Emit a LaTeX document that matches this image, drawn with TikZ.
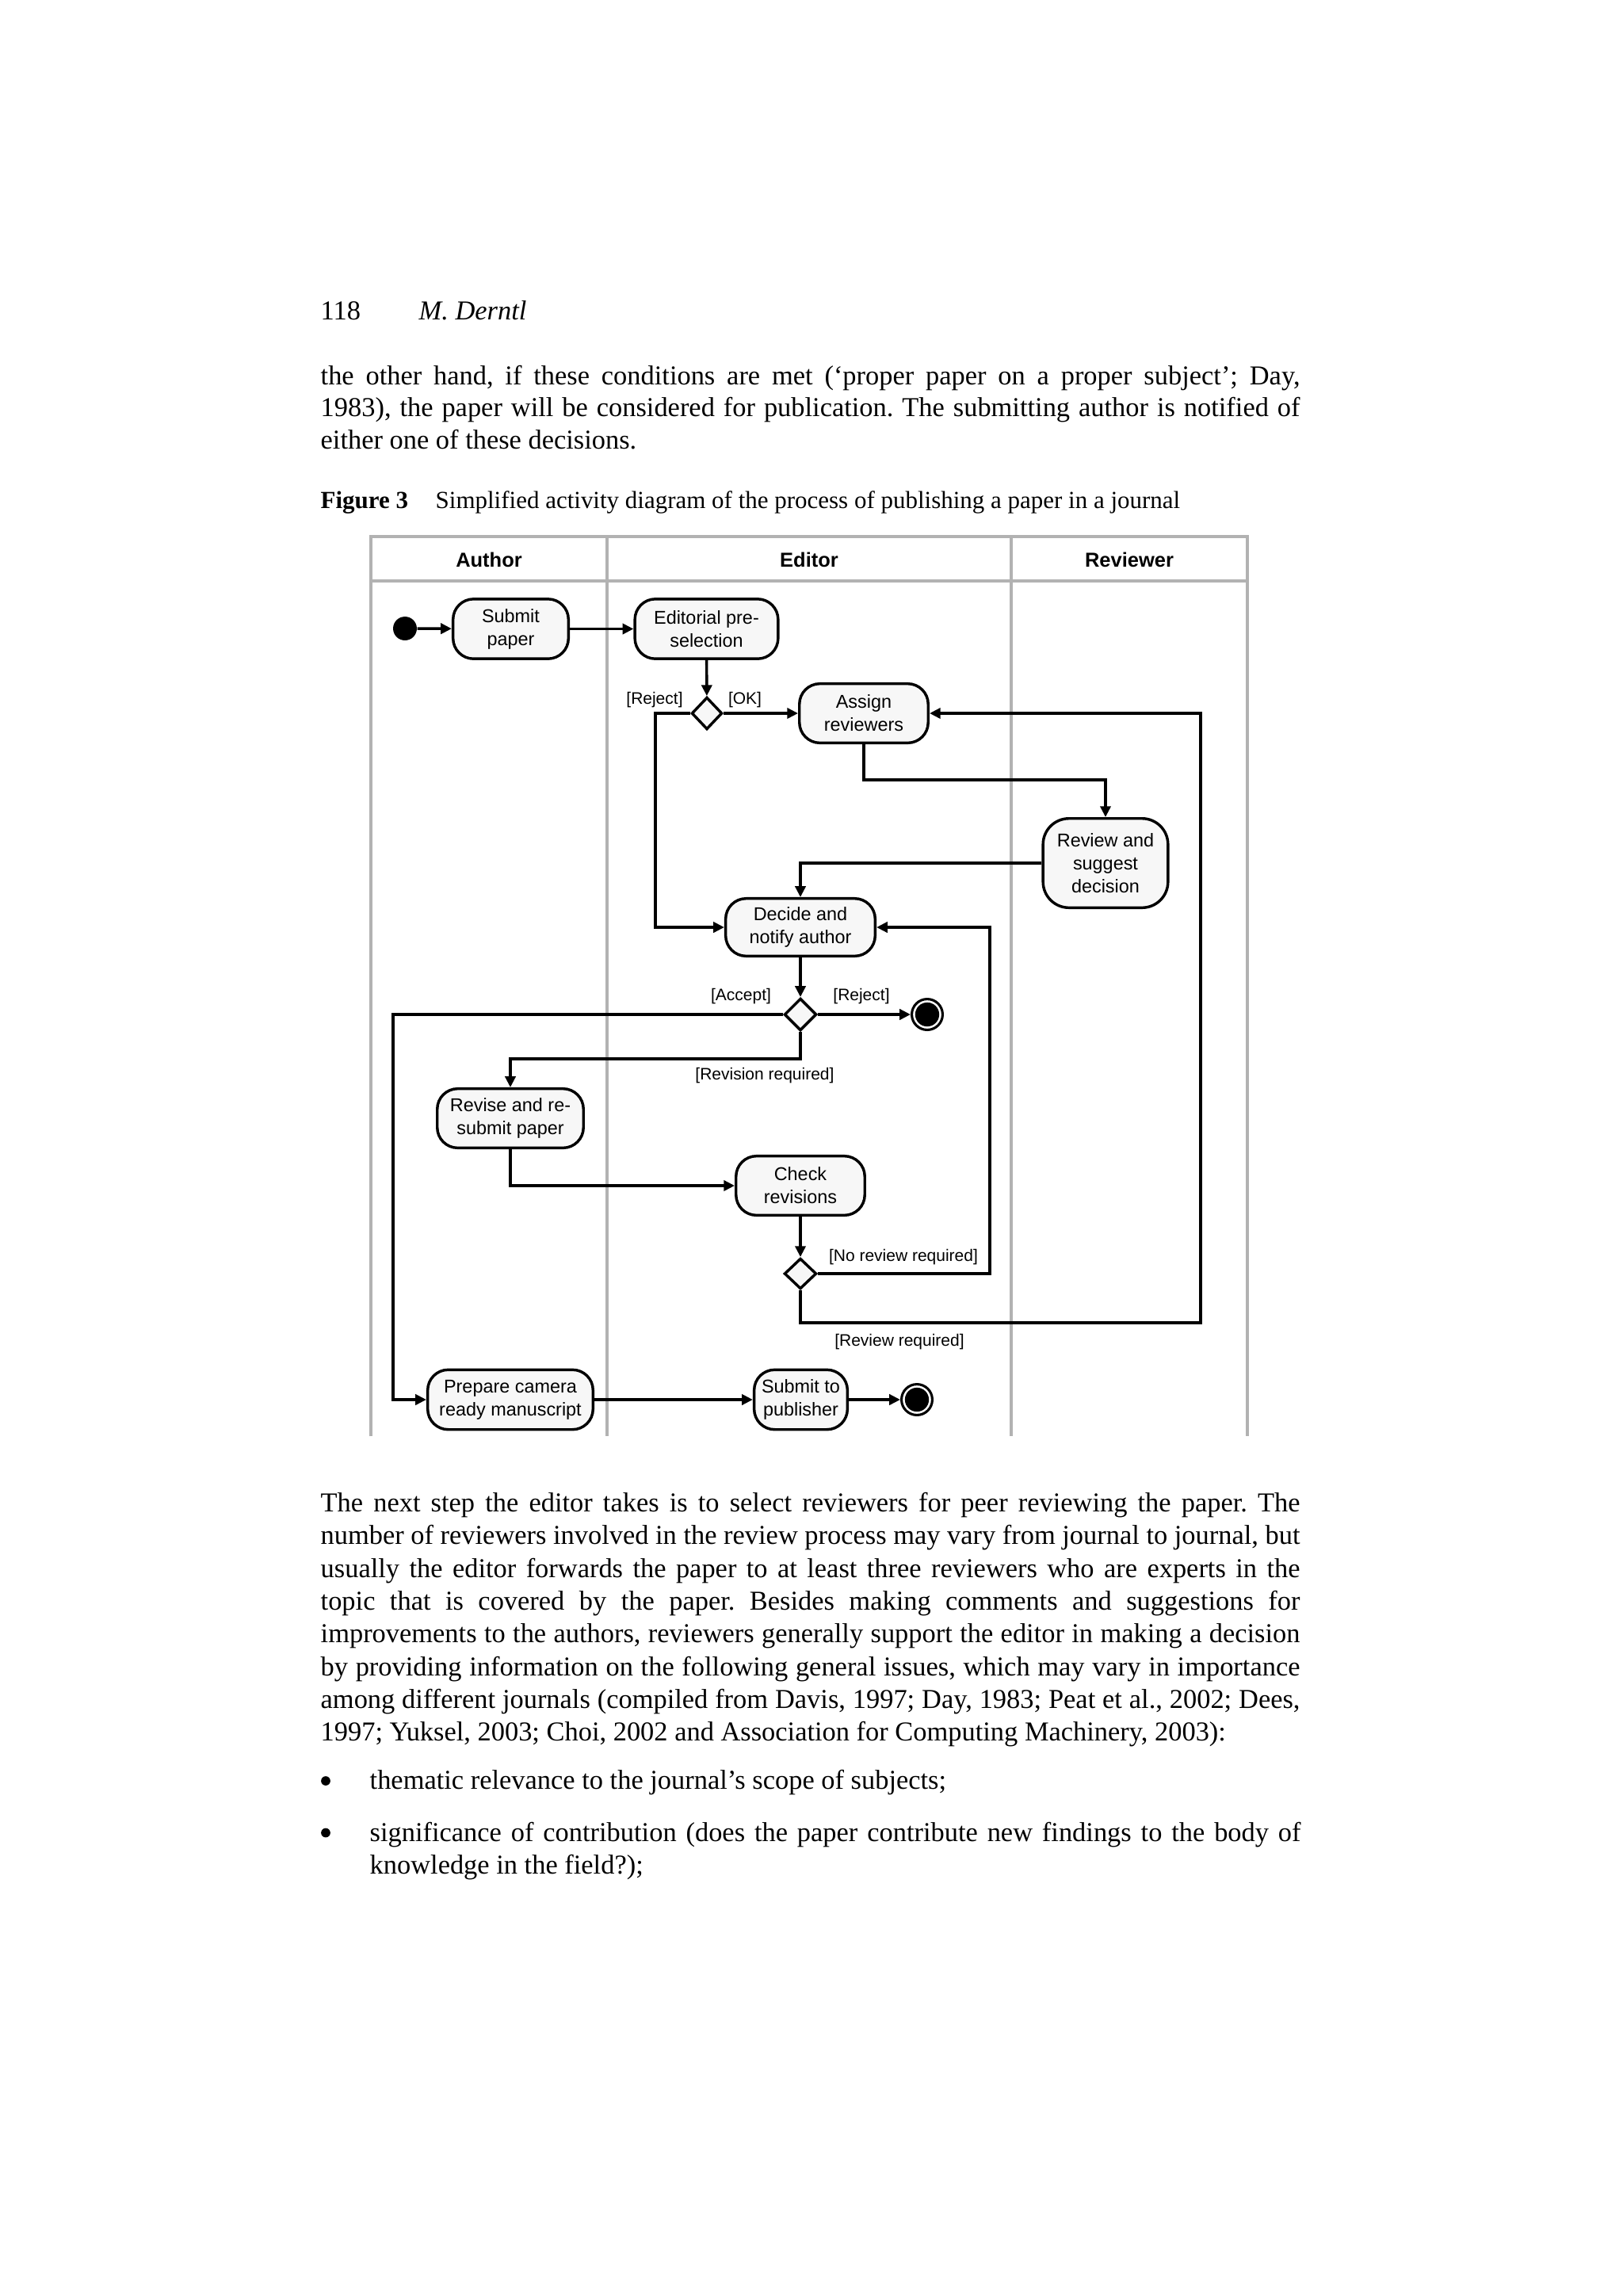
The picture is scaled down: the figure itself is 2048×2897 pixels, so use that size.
\documentclass[tikz,border=0pt]{standalone}
\usepackage{fontspec}
\setmainfont{Liberation Serif}
\newfontfamily\diafont{Liberation Sans}
\usetikzlibrary{shapes.geometric,arrows.meta}
\frenchspacing
\begin{document}
\begin{tikzpicture}[x=0.2905pt,y=-0.2905pt,
  lane/.style={draw=black!30,line width=1.3pt},
  act/.style={draw,line width=1pt,fill=black!3,rounded corners=7.5pt,align=center,inner sep=0pt,
    font=\diafont\fontsize{6.8pt}{8.4pt}\selectfont},
  dec/.style={draw,line width=1pt,fill=black!3,diamond,inner sep=0pt},
  flow/.style={line width=1pt,-{Triangle[length=4pt,width=3.8pt]}},
  guard/.style={font=\diafont\fontsize{6.1pt}{7pt}\selectfont,inner sep=0pt},
  hdr/.style={font=\diafont\bfseries\fontsize{7.4pt}{8pt}\selectfont,inner sep=0pt},
  finalnode/.style={circle,draw,line width=0.9pt,fill=white,minimum size=11.3pt,inner sep=0pt},
  bulletdot/.style={circle,fill,inner sep=0pt,minimum size=3.4pt},
  body/.style={anchor=base west,inner sep=0pt,font=\fontsize{10pt}{11.9pt}\selectfont},
  captext/.style={anchor=base west,inner sep=0pt,font=\fontsize{9pt}{11pt}\selectfont},
]
\useasboundingbox[fill=white] (0,0) rectangle (2048,2897);

% ---------- page text ----------
\node[body] (pgnum) at (404,403) {118};
\node[body] (pgauth) at (528,403) {\itshape M. Derntl};

\node[body] (a1) at (404,485) {\makebox[359pt][s]{the other hand, if these conditions are met (‘proper paper on a proper subject’; Day,}};
\node[body] (a2) at (404,525.5) {\makebox[359pt][s]{1983), the paper will be considered for publication. The submitting author is notified of}};
\node[body] (a3) at (404,566) {either one of these decisions.};

\node[captext] (capfig) at (404,641) {\bfseries Figure 3};
\node[captext] (captxt) at (549,641) {Simplified activity diagram of the process of publishing a paper in a journal};

\node[body] (b1) at (404,1907.5) {\makebox[359pt][s]{The next step the editor takes is to select reviewers for peer reviewing the paper. The}};
\node[body] (b2) at (404,1948.8) {\makebox[359pt][s]{number of reviewers involved in the review process may vary from journal to journal, but}};
\node[body] (b3) at (404,1990.2) {\makebox[359pt][s]{usually the editor forwards the paper to at least three reviewers who are experts in the}};
\node[body] (b4) at (404,2031.5) {\makebox[359pt][s]{topic that is covered by the paper. Besides making comments and suggestions for}};
\node[body] (b5) at (404,2072.8) {\makebox[359pt][s]{improvements to the authors, reviewers generally support the editor in making a decision}};
\node[body] (b6) at (404,2114.2) {\makebox[359pt][s]{by providing information on the following general issues, which may vary in importance}};
\node[body] (b7) at (404,2155.5) {\makebox[359pt][s]{among different journals (compiled from Davis, 1997; Day, 1983; Peat et al., 2002; Dees,}};
\node[body] (b8) at (404,2196.8) {1997; Yuksel, 2003; Choi, 2002 and Association for Computing Machinery, 2003):};

\node[bulletdot] (c0) at (411,2247) {};
\node[body] (c1) at (466,2257.5) {thematic relevance to the journal’s scope of subjects;};
\node[bulletdot] (d0) at (411,2312.5) {};
\node[body] (d1t) at (466,2323) {\makebox[341.3pt][s]{significance of contribution (does the paper contribute new findings to the body of}};
\node[body] (d2t) at (466,2364) {knowledge in the field?);};

% ---------- swimlanes ----------
\draw[lane] (468,1812) -- (468,677) -- (1574,677) -- (1574,1812);
\draw[lane] (468,733) -- (1574,733);
\draw[lane] (766,677) -- (766,1812);
\draw[lane] (1276,677) -- (1276,1812);
\node[hdr] (hauthor) at (617,706) {Author};
\node[hdr] (heditor) at (1021,706) {Editor};
\node[hdr] (hreviewer) at (1425,706) {Reviewer};

% ---------- nodes ----------
\node[circle,fill,inner sep=0pt,minimum size=8.7pt] (init) at (511,793) {};
\node[act,minimum width=42.3pt,minimum height=21.9pt] (submit) at (644.5,793.5) {Submit\\paper};
\node[act,minimum width=52.5pt,minimum height=21.9pt] (editorial) at (891.5,793.5) {Editorial pre-\\selection};
\node[dec,minimum width=11.2pt,minimum height=11.8pt] (dd1) at (892,900) {};
\node[act,minimum width=47.2pt,minimum height=21.7pt] (assign) at (1090,900) {Assign\\reviewers};
\node[act,minimum width=45.8pt,minimum height=32.7pt,rounded corners=9.5pt] (review) at (1395,1089) {Review and\\suggest\\decision};
\node[act,minimum width=54.8pt,minimum height=21.1pt] (decide) at (1010,1170) {Decide and\\notify author};
\node[dec,minimum width=11.8pt,minimum height=11.8pt] (dd2) at (1010,1280) {};
\node[finalnode] (fin1) at (1170,1280) {};
\fill (fin1.center) circle[radius=4.4pt];
\node[act,minimum width=53.6pt,minimum height=21.7pt] (revise) at (644,1411) {Revise and re-\\submit paper};
\node[act,minimum width=47.2pt,minimum height=21.7pt] (check) at (1010,1496) {Check\\revisions};
\node[dec,minimum width=11.8pt,minimum height=11.2pt] (dd3) at (1010,1607) {};
\node[act,minimum width=60.6pt,minimum height=21.9pt] (prepare) at (644,1766) {Prepare camera\\ready manuscript};
\node[act,minimum width=34.2pt,minimum height=21.9pt] (pubsub) at (1010.5,1766) {Submit to\\publisher};
\node[finalnode] (fin2) at (1157,1766) {};
\fill (fin2.center) circle[radius=4.4pt];

\coordinate (acc) at (496,1280);
\coordinate (rvw) at (1515,1669);

% ---------- guards ----------
\node[guard] (gr1) at (826,883) {[Reject]};
\node[guard] (gok) at (940,883) {[OK]};
\node[guard] (gacc) at (935,1257) {[Accept]};
\node[guard] (gr2) at (1087,1257) {[Reject]};
\node[guard] (grev) at (965,1357) {[Revision required]};
\node[guard] (gnor) at (1140,1586) {[No review required]};
\node[guard] (grr) at (1135,1693) {[Review required]};

% ---------- flows ----------
\draw[flow] (init) -- (submit);
\draw[flow] (submit) -- (editorial);
\draw[flow] (editorial) -- (dd1);
\draw[flow] (dd1.east) -- (assign.west);
\draw[flow] (dd1.west) -- ++(-44,0) |- (decide.west);
\draw[flow] (assign.south) -- ++(0,45) -| (review.north);
\draw[flow] (review.west) -| (decide.north);
\draw[flow] (decide.south) -- (dd2.north);
\draw[flow] (dd2.east) -- (fin1);
\draw[flow] (dd2.west) -- (acc) |- (prepare.west);
\draw[flow] (dd2.south) -- ++(0,34) -| (revise.north);
\draw[flow] (revise.south) |- (check.west);
\draw[flow] (check.south) -- (dd3.north);
\draw[flow] (dd3.east) -- ++(217,0) |- (decide.east);
\draw[flow] (dd3.south) |- (rvw) |- (assign.east);
\draw[flow] (prepare.east) -- (pubsub.west);
\draw[flow] (pubsub) -- (fin2);
\end{tikzpicture}
\end{document}
